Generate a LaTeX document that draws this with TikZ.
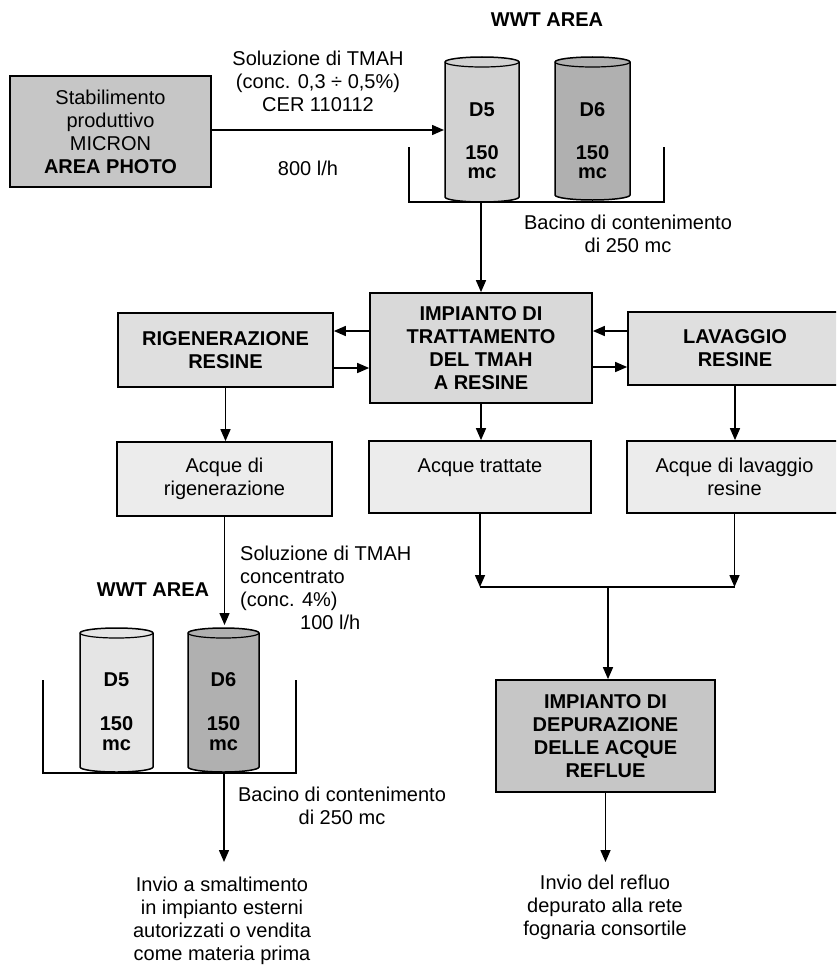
\documentclass[tikz,border=0pt]{standalone}
\usepackage{fontspec}
\setmainfont{Liberation Sans}
\usetikzlibrary{arrows.meta}
\newcommand\tankshape[5]{%
  \pgfmathsetmacro\tkrx{(#2-#1)/2}%
  \draw[line width=1.5pt, fill=#5] (#1,#3+5) -- (#1,#4-5)
    arc[start angle=180,end angle=360,x radius=\tkrx pt,y radius=5pt]
    -- (#2,#3+5)
    arc[start angle=0,end angle=180,x radius=\tkrx pt,y radius=5pt] -- cycle;
  \draw[line width=1.2pt] (#1,#3+5) arc[start angle=180,end angle=360,x radius=\tkrx pt,y radius=5pt];
}
\begin{document}
\begin{tikzpicture}[x=1pt,y=-1pt,
  txt/.style={font=\fontsize{20}{23}\selectfont, align=center, inner sep=0pt},
  btxt/.style={font=\fontsize{20}{23}\selectfont\bfseries, align=center, inner sep=0pt},
  box/.style={draw, line width=1.7pt, align=center, inner sep=0pt},
  conn/.style={line width=1.5pt, -{Triangle[length=12pt,width=10pt]}},
  plainline/.style={line width=1.5pt}]
\useasboundingbox (0,0) rectangle (836,966);
\clip (0,0) rectangle (836,966);

% top part
\node[box, fill=gray!45, minimum width=201pt, minimum height=111pt, font=\fontsize{20}{23}\selectfont] (stab) at (110.5,131.5) {Stabilimento\\produttivo\\MICRON\\\textbf{AREA PHOTO}};
\node[txt] (sol) at (318,81) {Soluzione di TMAH\\(conc. 0,3 ÷ 0,5\%)\\CER 110112};
\node[txt] (q1) at (308,168) {800 l/h};
\node[btxt] (wwt1) at (547,20) {WWT AREA};

\tankshape{445}{519}{57}{202}{gray!35}
\tankshape{555}{630}{57}{200}{gray!62}
\node[btxt] (t1a) at (482,110) {D5};
\node[btxt] (t1b) at (482,153) {150};
\node[btxt] (t1c) at (482,173) {mc};
\node[btxt] (t2a) at (592.5,110) {D6};
\node[btxt] (t2b) at (592.5,153) {150};
\node[btxt] (t2c) at (592.5,173) {mc};

\coordinate (d5in) at (444,130);
\draw[conn] (stab.east |- d5in) -- (d5in);
\draw[plainline] (409,147) -- (409,202) -- (664,202) -- (664,147);
\node[txt] (bac1) at (628,233.5) {Bacino di contenimento\\di 250 mc};

% middle boxes
\node[box, fill=gray!30, minimum width=222pt, minimum height=110pt, font=\fontsize{20}{23}\selectfont\bfseries] (imp) at (481,348) {IMPIANTO DI\\TRATTAMENTO\\DEL TMAH\\A RESINE};
\node[box, fill=gray!25, minimum width=215pt, minimum height=74pt, font=\fontsize{20}{23}\selectfont\bfseries] (rig) at (225.5,350) {RIGENERAZIONE\\RESINE};
\node[box, fill=gray!25, minimum width=214pt, minimum height=73pt, font=\fontsize{20}{23}\selectfont\bfseries] (lav) at (735,348.5) {LAVAGGIO\\RESINE};
\node[box, fill=gray!15, minimum width=215pt, minimum height=74pt, font=\fontsize{20}{23}\selectfont] (acqrig) at (224.5,479) {Acque di\\rigenerazione};
\node[box, fill=gray!15, minimum width=222pt, minimum height=72pt, font=\fontsize{20}{23}\selectfont] (acqtr) at (480,477) {Acque trattate\\\mbox{}};
\node[box, fill=gray!15, minimum width=215pt, minimum height=72pt, font=\fontsize{20}{23}\selectfont] (acqlav) at (734.5,477) {Acque di lavaggio\\resine};

\coordinate (b1out) at (481,202);
\draw[conn] (b1out) -- (b1out |- imp.north);

\draw[conn] ([yshift=17pt]imp.west) -- ([yshift=17pt]imp.west -| rig.east);
\draw[conn] ([yshift=-18pt]rig.east) -- ([yshift=-18pt]rig.east -| imp.west);
\draw[conn] ([yshift=17.5pt]lav.west) -- ([yshift=17.5pt]lav.west -| imp.east);
\draw[conn] ([yshift=-19pt]imp.east) -- ([yshift=-19pt]imp.east -| lav.west);

\draw[conn] (rig.south) -- (rig.south |- acqrig.north);
\draw[conn] (imp.south) -- (imp.south |- acqtr.north);
\draw[conn] (lav.south) -- (lav.south |- acqlav.north);

% junction and depuration
\coordinate (jn) at (608,587);
\draw[conn] (acqtr.south) -- (acqtr.south |- jn);
\draw[conn] (acqlav.south) -- (acqlav.south |- jn);
\draw[plainline] (acqtr.south |- jn) -- (acqlav.south |- jn);
\node[box, fill=gray!45, minimum width=219pt, minimum height=112pt, font=\fontsize{20}{23}\selectfont\bfseries] (dep) at (605.5,736) {IMPIANTO DI\\DEPURAZIONE\\DELLE ACQUE\\REFLUE};
\draw[conn] (jn) -- (jn |- dep.north);
\coordinate (o2) at (605.5,862);
\draw[conn] (dep.south) -- (o2);
\node[txt] (out2) at (605,907.5) {Invio del refluo\\depurato alla rete\\fognaria consortile};

% bottom left part
\node[txt, align=left, anchor=west] (sol2) at (240,588) {Soluzione di TMAH\\concentrato\\(conc. 4\%)\\\hspace*{60pt}100 l/h};
\node[btxt] (wwt2) at (153,590) {WWT AREA};
\tankshape{80}{153}{628}{772}{gray!20}
\tankshape{188}{259}{628}{772}{gray!62}
\node[btxt] (t3a) at (116.5,680) {D5};
\node[btxt] (t3b) at (116.5,724) {150};
\node[btxt] (t3c) at (116.5,745) {mc};
\node[btxt] (t4a) at (223.5,680) {D6};
\node[btxt] (t4b) at (223.5,724) {150};
\node[btxt] (t4c) at (223.5,745) {mc};
\coordinate (d6in) at (226,625);
\draw[conn] (acqrig.south) -- (acqrig.south |- d6in);
\draw[plainline] (43,680) -- (43,773) -- (296,773) -- (296,680);
\coordinate (b2out) at (224,773);
\coordinate (o1) at (224,862);
\draw[conn] (b2out) -- (o1);
\node[txt] (bac2) at (342,806) {Bacino di contenimento\\di 250 mc};
\node[txt] (out1) at (222,921) {Invio a smaltimento\\in impianto esterni\\autorizzati o vendita\\come materia prima};
\end{tikzpicture}
\end{document}
